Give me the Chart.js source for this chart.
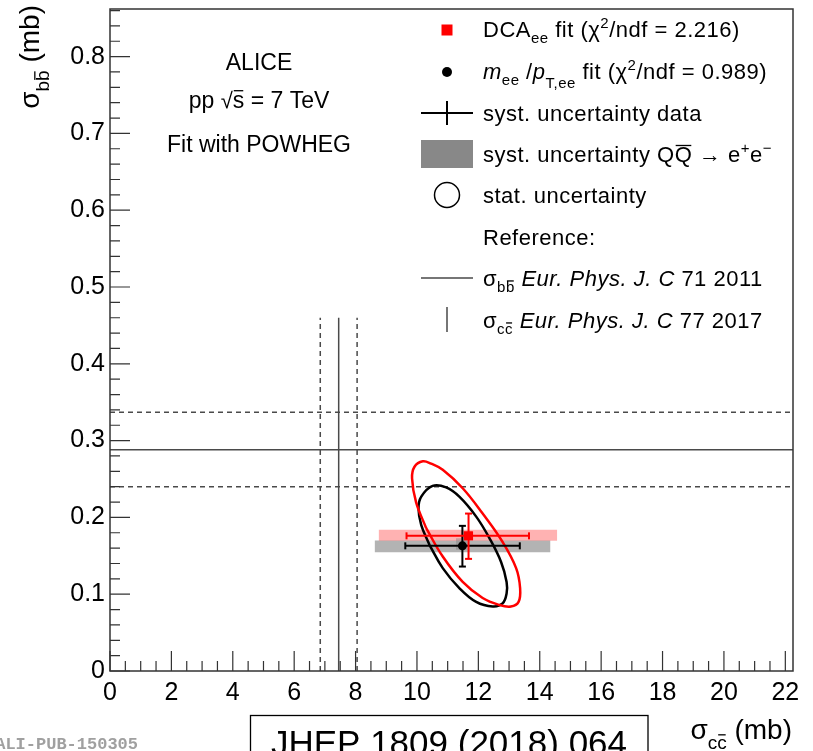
<!DOCTYPE html>
<html>
<head>
<meta charset="utf-8">
<script src="https://cdn.jsdelivr.net/npm/chart.js@4.4.1/dist/chart.umd.min.js"></script>
<style>
  html, body { margin: 0; padding: 0; background: #fff; }
  #wrap { width: 813px; height: 751px; }
</style>
</head>
<body>
<div id="wrap"><canvas id="fit"></canvas></div>
<script>
// axes
const xRange = [0, 22.25];
const yRange = [0, 0.862];
const xTicks = [0, 2, 4, 6, 8, 10, 12, 14, 16, 18, 20, 22];
const xTickLabels = ['0', '2', '4', '6', '8', '10', '12', '14', '16', '18', '20', '22'];
const yTicks = [0, 0.1, 0.2, 0.3, 0.4, 0.5, 0.6, 0.7, 0.8];
const yTickLabels = ['0', '0.1', '0.2', '0.3', '0.4', '0.5', '0.6', '0.7', '0.8'];
const xMinorStep = 0.5;
const yMinorStep = 0.02;

// published cross sections: central, low, high
const sigmaBBRef = [0.288, 0.240, 0.337];
const sigmaCCRef = [7.45, 6.85, 8.05];
const sigmaCCRefTop = 0.46;

// DCA_ee fit
const dcaPoint = [11.68, 0.176];
const dcaSystX = [9.66, 13.65];
const dcaSystY = [0.146, 0.205];
const dcaModelBand = [8.75, 14.57, 0.1695, 0.184]; // x0, x1, y0, y1
const dcaModelBox = [11.44, 11.80, 0.173, 0.182];

// m_ee / pT,ee fit
const meePoint = [11.48, 0.163];
const meeSystX = [9.62, 13.35];
const meeSystY = [0.136, 0.189];
const meeModelBand = [8.62, 14.35, 0.1545, 0.170];
const meeModelBox = [11.27, 11.64, 0.158, 0.173];

// 1 sigma stat. contours
const meeContour = [
  [10.41, 0.164], [10.84, 0.134], [11.38, 0.108], [11.93, 0.090], [12.47, 0.084],
  [12.79, 0.088], [12.92, 0.101], [12.92, 0.116], [12.74, 0.142], [12.36, 0.173],
  [11.93, 0.201], [11.38, 0.227], [10.95, 0.239], [10.51, 0.241], [10.14, 0.227],
  [10.05, 0.212], [10.14, 0.190], [10.41, 0.164]
];
const dcaContour = [
  [10.30, 0.186], [10.84, 0.149], [11.49, 0.116], [12.14, 0.095], [12.68, 0.086],
  [13.06, 0.084], [13.31, 0.090], [13.36, 0.108], [13.23, 0.134], [12.79, 0.168],
  [12.14, 0.205], [11.49, 0.238], [10.84, 0.262], [10.46, 0.270], [10.19, 0.273],
  [9.92, 0.266], [9.84, 0.251], [9.97, 0.220], [10.30, 0.186]
];

const FONT = '"Liberation Sans", Arial, Helvetica, sans-serif';
const RED = '#ff0000';
const REFCOL = '#4a4a4a';

const pts = arr => arr.map(([x, y]) => ({ x, y }));

function refLine(points, dash) {
  return { data: pts(points), borderColor: REFCOL, borderWidth: 1.5, borderDash: dash, pointRadius: 0, fill: false };
}
function band([x0, x1, y0, y1], color) {
  return { data: pts([[x0, y1], [x1, y1]]), borderColor: 'transparent', borderWidth: 0, pointRadius: 0, fill: { value: y0 }, backgroundColor: color };
}
function contour(points, color) {
  return { data: pts(points), borderColor: color, borderWidth: 2.5, tension: 0.4, pointRadius: 0, fill: false };
}
function errBar(points, color, vertical) {
  return { data: pts(points), borderColor: color, borderWidth: 2, pointStyle: 'line', pointRotation: vertical ? 0 : 90,
    pointRadius: 3.5, pointBorderColor: color, pointBorderWidth: 2, fill: false };
}
function marker(p, color, style, r) {
  return { data: pts([p]), showLine: false, pointStyle: style, pointRadius: r, backgroundColor: color, borderColor: color, pointBorderWidth: 0 };
}

// listed bottom to top
const layers = [
  refLine([[xRange[0], sigmaBBRef[0]], [xRange[1], sigmaBBRef[0]]], []),
  refLine([[xRange[0], sigmaBBRef[1]], [xRange[1], sigmaBBRef[1]]], [5, 4]),
  refLine([[xRange[0], sigmaBBRef[2]], [xRange[1], sigmaBBRef[2]]], [5, 4]),
  refLine([[sigmaCCRef[0], 0], [sigmaCCRef[0], sigmaCCRefTop]], []),
  refLine([[sigmaCCRef[1], 0], [sigmaCCRef[1], sigmaCCRefTop]], [5, 4]),
  refLine([[sigmaCCRef[2], 0], [sigmaCCRef[2], sigmaCCRefTop]], [5, 4]),
  band(meeModelBand, 'rgba(128,128,128,0.6)'),
  band(dcaModelBand, 'rgba(255,0,0,0.3)'),
  band(meeModelBox, 'rgba(128,128,128,0.45)'),
  band(dcaModelBox, 'rgba(255,0,0,0.25)'),
  contour(meeContour, '#000'),
  contour(dcaContour, RED),
  errBar([[meeSystX[0], meePoint[1]], [meeSystX[1], meePoint[1]]], '#000', false),
  errBar([[meePoint[0], meeSystY[0]], [meePoint[0], meeSystY[1]]], '#000', true),
  errBar([[dcaSystX[0], dcaPoint[1]], [dcaSystX[1], dcaPoint[1]]], RED, false),
  errBar([[dcaPoint[0], dcaSystY[0]], [dcaPoint[0], dcaSystY[1]]], RED, true),
  marker(meePoint, '#000', 'circle', 4.5),
  marker(dcaPoint, RED, 'rect', 6.4)
];
layers.forEach((d, i) => { d.order = layers.length - i; });

// rich text: parts {t, s, dy, it, bar}
function richWidth(ctx, parts, base) {
  let w = 0;
  for (const p of parts) {
    ctx.font = (p.it ? 'italic ' : '') + (p.s || base) + 'px ' + FONT;
    w += ctx.measureText(p.t).width;
  }
  return w;
}
function drawRich(ctx, x, y, parts, base) {
  let cx = x;
  for (const p of parts) {
    const s = p.s || base;
    const yy = y + (p.dy || 0);
    ctx.font = (p.it ? 'italic ' : '') + s + 'px ' + FONT;
    const w = ctx.measureText(p.t).width;
    ctx.fillText(p.t, cx, yy);
    if (p.bar) ctx.fillRect(cx + 1, yy - s * 0.78, w - 2, 1.3);
    cx += w;
  }
  return cx - x;
}

const sub = (t, extra) => Object.assign({ t, s: 15, dy: 6 }, extra || {});
const sup = (t) => ({ t, s: 15, dy: -9 });

const rootStyle = {
  id: 'rootStyle',
  afterDraw(chart) {
    const { ctx, chartArea: a, scales: { x, y } } = chart;
    ctx.save();

    // frame and inward ticks
    ctx.strokeStyle = '#333';
    ctx.lineWidth = 1.5;
    ctx.strokeRect(a.left, a.top, a.right - a.left, a.bottom - a.top);
    ctx.lineWidth = 1.2;
    ctx.beginPath();
    for (let i = 0; xRange[0] + i * xMinorStep <= xRange[1]; i++) {
      const px = x.getPixelForValue(xRange[0] + i * xMinorStep);
      const len = i % 4 === 0 ? 20 : 10;
      ctx.moveTo(px, a.bottom); ctx.lineTo(px, a.bottom - len);
    }
    for (let i = 0; yRange[0] + i * yMinorStep <= yRange[1]; i++) {
      const py = y.getPixelForValue(yRange[0] + i * yMinorStep);
      const len = i % 5 === 0 ? 20 : 10;
      ctx.moveTo(a.left, py); ctx.lineTo(a.left + len, py);
    }
    ctx.stroke();

    ctx.fillStyle = '#000';
    ctx.textBaseline = 'alphabetic';
    ctx.textAlign = 'left';

    // labels in the upper left
    const info = [
      [[{ t: 'ALICE' }], 70],
      [[{ t: 'pp ' }, { t: '\u221A', s: 22 }, { t: 's', bar: true }, { t: ' = 7 TeV' }], 108],
      [[{ t: 'Fit with POWHEG' }], 152]
    ];
    for (const [parts, by] of info) {
      const w = richWidth(ctx, parts, 23);
      drawRich(ctx, 259 - w / 2, by, parts, 23);
    }

    // legend
    const lx = 447, tx = 483, ls = 22;
    ctx.letterSpacing = '0.5px';
    ctx.fillStyle = RED;
    ctx.fillRect(lx - 5.5, 24.5, 11, 11);
    ctx.fillStyle = '#000';
    ctx.beginPath(); ctx.arc(lx, 72, 5, 0, Math.PI * 2); ctx.fill();
    ctx.strokeStyle = '#000'; ctx.lineWidth = 2;
    ctx.beginPath();
    ctx.moveTo(421, 113); ctx.lineTo(473, 113);
    ctx.moveTo(lx, 101); ctx.lineTo(lx, 125);
    ctx.stroke();
    ctx.fillStyle = '#888';
    ctx.fillRect(421, 140, 52, 28);
    ctx.lineWidth = 1.5;
    ctx.beginPath(); ctx.arc(lx, 195, 12.5, 0, Math.PI * 2); ctx.stroke();
    ctx.strokeStyle = REFCOL;
    ctx.beginPath();
    ctx.moveTo(421, 278); ctx.lineTo(473, 278);
    ctx.moveTo(lx, 307); ctx.lineTo(lx, 332);
    ctx.stroke();

    ctx.fillStyle = '#000';
    const entries = [
      [[{ t: 'DCA' }, sub('ee'), { t: ' fit (' }, { t: '\u03C7' }, sup('2'), { t: '/ndf = 2.216)' }], 37],
      [[{ t: 'm', it: true }, sub('ee'), { t: ' /' }, { t: 'p', it: true }, sub('T,ee', { dy: 9 }), { t: ' fit (' }, { t: '\u03C7' }, sup('2'), { t: '/ndf = 0.989)' }], 79],
      [[{ t: 'syst. uncertainty data' }], 121],
      [[{ t: 'syst. uncertainty Q' }, { t: 'Q', bar: true }, { t: ' \u2192 e' }, sup('+'), { t: 'e' }, sup('\u2212')], 162],
      [[{ t: 'stat. uncertainty' }], 203],
      [[{ t: 'Reference:' }], 245],
      [[{ t: '\u03C3' }, sub('b'), sub('b', { bar: true }), { t: ' ' }, { t: 'Eur. Phys. J. C', it: true }, { t: ' 71 2011' }], 286],
      [[{ t: '\u03C3' }, sub('c'), sub('c', { bar: true }), { t: ' ' }, { t: 'Eur. Phys. J. C', it: true }, { t: ' 77 2017' }], 328]
    ];
    for (const [parts, by] of entries) drawRich(ctx, tx, by, parts, ls);
    ctx.letterSpacing = '0px';

    // axis titles
    const xt = [{ t: '\u03C3' }, sub('c', { s: 19, dy: 10 }), sub('c', { s: 19, dy: 10, bar: true }), { t: ' (mb)' }];
    const xw = richWidth(ctx, xt, 28);
    drawRich(ctx, 792 - xw, 739, xt, 28);

    const yt = [{ t: '\u03C3' }, sub('b', { s: 19, dy: 10 }), sub('b', { s: 19, dy: 10, bar: true }), { t: ' (mb)' }];
    const yw = richWidth(ctx, yt, 28);
    ctx.save();
    ctx.translate(39, 5);
    ctx.rotate(-Math.PI / 2);
    drawRich(ctx, -yw, 0, yt, 28);
    ctx.restore();

    // journal box
    ctx.strokeStyle = '#000';
    ctx.lineWidth = 1.3;
    ctx.strokeRect(250.5, 715.5, 397.5, 60);
    ctx.font = '35px ' + FONT;
    ctx.textAlign = 'center';
    ctx.fillText('JHEP 1809 (2018) 064', 449, 755);

    // figure id
    ctx.font = 'bold 17px "Liberation Mono", "Courier New", monospace';
    ctx.textAlign = 'right';
    ctx.fillStyle = '#a0a0a0';
    ctx.fillText('ALI-PUB-150305', 138, 749);

    ctx.restore();
  }
};

new Chart(document.getElementById('fit'), {
  type: 'line',
  data: { datasets: layers },
  options: {
    responsive: true,
    maintainAspectRatio: false,
    animation: false,
    events: [],
    layout: { padding: { top: 9, right: 20, left: 0, bottom: 0 } },
    plugins: { legend: { display: false }, tooltip: { enabled: false } },
    scales: {
      x: {
        type: 'linear', min: xRange[0], max: xRange[1],
        afterBuildTicks: s => { s.ticks = xTicks.map(v => ({ value: v })); },
        afterFit: s => { s.height = 80; s.paddingLeft = 0; s.paddingRight = 0; },
        grid: { display: false, drawTicks: false },
        border: { display: false },
        ticks: { autoSkip: false, maxRotation: 0, padding: 7, color: '#000',
          font: { family: FONT, size: 25 }, callback: (v, i) => xTickLabels[i] }
      },
      y: {
        type: 'linear', min: yRange[0], max: yRange[1],
        afterBuildTicks: s => { s.ticks = yTicks.map(v => ({ value: v })); },
        afterFit: s => { s.width = 110; s.paddingTop = 0; s.paddingBottom = 0; },
        grid: { display: false, drawTicks: false },
        border: { display: false },
        ticks: { autoSkip: false, padding: 5, color: '#000',
          font: { family: FONT, size: 25 }, callback: (v, i) => yTickLabels[i] }
      }
    }
  },
  plugins: [rootStyle]
});
</script>
</body>
</html>
